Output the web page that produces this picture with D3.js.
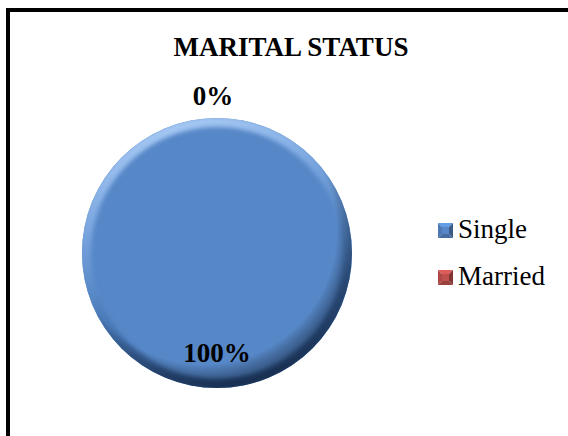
<!doctype html>
<html>
<head>
<style>
  body { margin: 0; background: #fff; }
  svg { display: block; font-family: "Liberation Serif", "Times New Roman", serif; }
</style>
</head>
<body>
<svg></svg>
<script src="https://cdnjs.cloudflare.com/ajax/libs/d3/7.8.5/d3.min.js"></script>
<script>
var categories = ["Single", "Married"];
var values = [100, 0];
var colors = ["#5687c7", "#c0504d"];
var title = "MARITAL STATUS";

var width = 568, height = 436;
var cx = 217, cy = 253, r = 135;

var svg = d3.select("svg").attr("width", width).attr("height", height);
var defs = svg.append("defs");

// chart frame (only left/top visible in the crop)
svg.append("rect")
  .attr("x", 8).attr("y", 10)
  .attr("width", width + 20).attr("height", height + 20)
  .attr("fill", "#fff").attr("stroke", "#000").attr("stroke-width", 4);

svg.append("text")
  .attr("x", 291).attr("y", 56)
  .attr("text-anchor", "middle")
  .style("font-size", "27px").style("font-weight", "bold")
  .text(title);

var data = categories.map(function(c, i) { return { name: c, value: values[i], color: colors[i] }; });
var total = d3.sum(values);

var pie = d3.pie().sort(null).value(function(d) { return d.value; });
var arcs = pie(data);

var arc = d3.arc().innerRadius(0).outerRadius(r);

// bevel gradients
var lg = defs.append("linearGradient").attr("id", "rim")
  .attr("x1", "0.35").attr("y1", "0").attr("x2", "0.65").attr("y2", "1");
lg.append("stop").attr("offset", "0%").attr("stop-color", "#a9cbf5");
lg.append("stop").attr("offset", "30%").attr("stop-color", "#79a5df");
lg.append("stop").attr("offset", "55%").attr("stop-color", "#5283c2");
lg.append("stop").attr("offset", "80%").attr("stop-color", "#36609a");
lg.append("stop").attr("offset", "100%").attr("stop-color", "#1d3860");

var rg = defs.append("radialGradient").attr("id", "edge")
  .attr("cx", "0.45").attr("cy", "0.42").attr("r", "0.56");
rg.append("stop").attr("offset", "88%").attr("stop-color", "#000").attr("stop-opacity", 0);
rg.append("stop").attr("offset", "100%").attr("stop-color", "#0e1d33").attr("stop-opacity", 0.45);

defs.append("filter").attr("id", "soft")
  .append("feGaussianBlur").attr("stdDeviation", 2);

var clip = defs.append("clipPath").attr("id", "pieclip");
clip.append("circle").attr("cx", cx).attr("cy", cy).attr("r", r);

var g = svg.append("g").attr("transform", "translate(" + cx + "," + cy + ")");

g.selectAll("path.slice")
  .data(arcs)
  .join("path")
  .attr("class", "slice")
  .attr("d", arc)
  .attr("fill", function(d) { return d.data.color; });

// bevel ring
var bevel = svg.append("g").attr("clip-path", "url(#pieclip)");
bevel.append("path")
  .attr("transform", "translate(" + cx + "," + cy + ")")
  .attr("d", d3.arc().innerRadius(r - 9).outerRadius(r + 2).startAngle(0).endAngle(2 * Math.PI)())
  .attr("fill", "url(#rim)")
  .attr("filter", "url(#soft)");
bevel.append("circle")
  .attr("cx", cx).attr("cy", cy).attr("r", r)
  .attr("fill", "url(#edge)");

// data labels
var labelArc = d3.arc().innerRadius(r * 0.74).outerRadius(r * 0.74);
g.selectAll("text.lbl")
  .data(arcs)
  .join("text")
  .attr("class", "lbl")
  .attr("transform", function(d) {
    if (d.value === 0) {
      var a = d.startAngle;
      return "translate(" + (Math.sin(a) * (r + 22) - 4) + "," + (-Math.cos(a) * (r + 22)) + ")";
    }
    return "translate(" + labelArc.centroid(d) + ")";
  })
  .attr("text-anchor", "middle")
  .attr("dy", "0.35em")
  .style("font-size", "27px").style("font-weight", "bold")
  .text(function(d) { return Math.round(d.value / total * 100) + "%"; });

// legend
var legend = svg.append("g").attr("transform", "translate(438,223)");
var item = legend.selectAll("g")
  .data(data)
  .join("g")
  .attr("transform", function(d, i) { return "translate(0," + (i * 47) + ")"; });

item.each(function(d) {
  var s = 15, sel = d3.select(this);
  var c = d3.color(d.color);
  var tris = [
    { p: [[0, 0], [s, 0], [s / 2, s / 2]], f: c.brighter(0.4) },
    { p: [[0, 0], [0, s], [s / 2, s / 2]], f: c.darker(0.3) },
    { p: [[s, 0], [s, s], [s / 2, s / 2]], f: c.darker(1.1) },
    { p: [[0, s], [s, s], [s / 2, s / 2]], f: c.darker(0.6) }
  ];
  sel.selectAll("path")
    .data(tris)
    .join("path")
    .attr("d", function(t) { return d3.line()(t.p) + "Z"; })
    .attr("fill", function(t) { return t.f; });
  sel.append("rect").attr("x", 4).attr("y", 4).attr("width", s - 8).attr("height", s - 8)
    .attr("fill", d.color);
});

item.append("text")
  .attr("x", 20).attr("y", 15)
  .style("font-size", "27px")
  .text(function(d) { return d.name; });
</script>
</body>
</html>
